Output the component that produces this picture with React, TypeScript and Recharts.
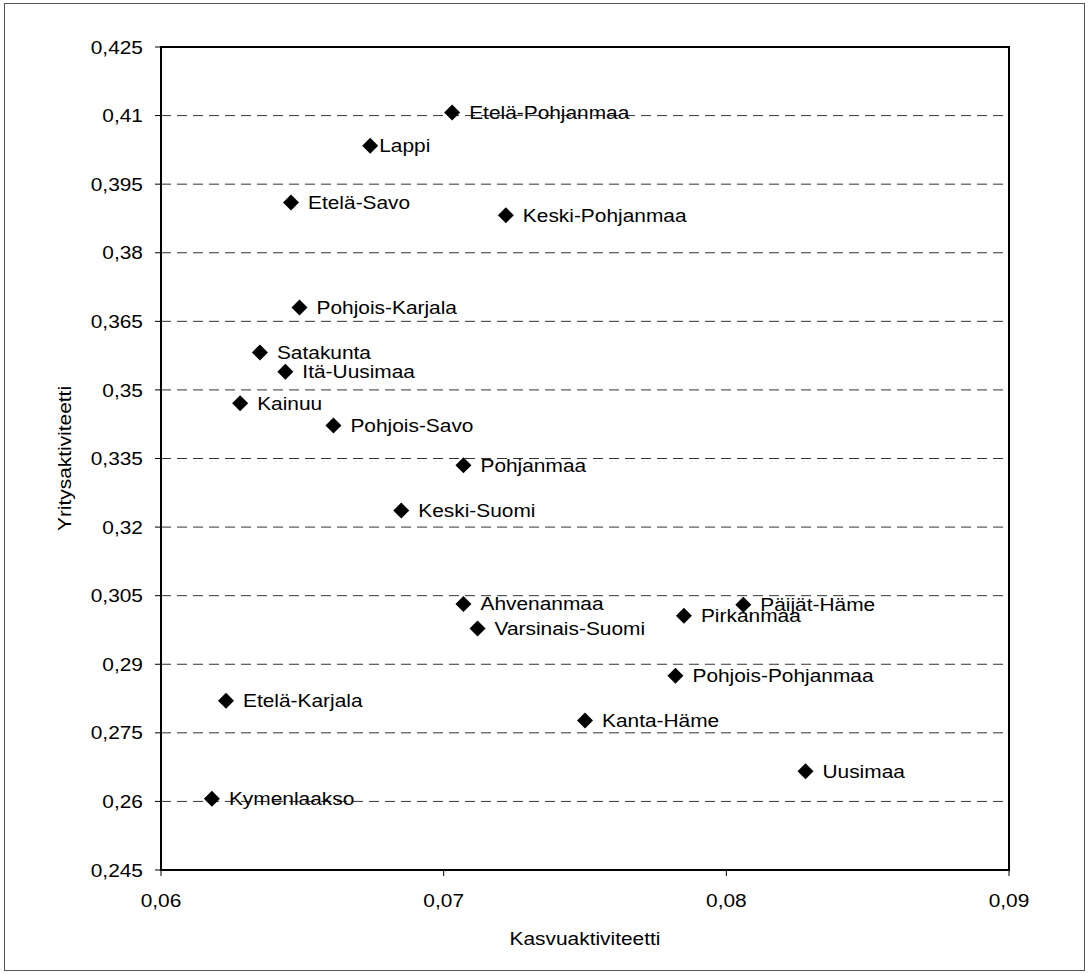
import React from "react";
import {
  ScatterChart,
  Scatter,
  XAxis,
  YAxis,
  CartesianGrid,
  ReferenceArea,
  Label,
} from "recharts";

const regions = [
  "Etelä-Pohjanmaa",
  "Lappi",
  "Etelä-Savo",
  "Keski-Pohjanmaa",
  "Pohjois-Karjala",
  "Satakunta",
  "Itä-Uusimaa",
  "Kainuu",
  "Pohjois-Savo",
  "Pohjanmaa",
  "Keski-Suomi",
  "Ahvenanmaa",
  "Varsinais-Suomi",
  "Päijät-Häme",
  "Pirkanmaa",
  "Pohjois-Pohjanmaa",
  "Etelä-Karjala",
  "Kanta-Häme",
  "Uusimaa",
  "Kymenlaakso",
];

const growthActivity = [
  0.0703, 0.0674, 0.0646, 0.0722, 0.0649, 0.0635, 0.0644, 0.0628, 0.0661,
  0.0707, 0.0685, 0.0707, 0.0712, 0.0806, 0.0785, 0.0782, 0.0623, 0.0750,
  0.0828, 0.0618,
];

const businessActivity = [
  0.4107, 0.4034, 0.391, 0.3882, 0.368, 0.3582, 0.354, 0.3471, 0.3422,
  0.3335, 0.3236, 0.3032, 0.2978, 0.303, 0.3006, 0.2875, 0.282, 0.2777,
  0.2666, 0.2606,
];

const xTickValues = [0.06, 0.07, 0.08, 0.09];
const xTickLabels = ["0,06", "0,07", "0,08", "0,09"];
const yTickValues = [
  0.245, 0.26, 0.275, 0.29, 0.305, 0.32, 0.335, 0.35, 0.365, 0.38, 0.395,
  0.41, 0.425,
];
const yTickLabels = [
  "0,245", "0,26", "0,275", "0,29", "0,305", "0,32", "0,335", "0,35",
  "0,365", "0,38", "0,395", "0,41", "0,425",
];

const xAxisTitle = "Kasvuaktiviteetti";
const yAxisTitle = "Yritysaktiviteetti";

// label placement style (gap between marker centre and label start)
const defaultLabelGap = 17;
const labelGapOverrides: Record<string, number> = { Lappi: 9 };

const data = regions.map((name, i) => ({
  name,
  x: growthActivity[i],
  y: businessActivity[i],
}));

const FONT = "'Liberation Sans', Arial, Helvetica, sans-serif";
const FS = 18.5;
const SX = 1.13;

const WText = ({
  x,
  y,
  anchor = "start",
  rotate = false,
  children,
}: {
  x: number;
  y: number;
  anchor?: "start" | "middle" | "end";
  rotate?: boolean;
  children: React.ReactNode;
}) => (
  <text
    transform={`translate(${x},${y})${rotate ? " rotate(-90)" : ""} scale(${SX},1)`}
    textAnchor={anchor}
    fontSize={FS}
    fontFamily={FONT}
    fill="#000"
  >
    {children}
  </text>
);

const labelFor = (vals: number[], labels: string[], v: number) => {
  const i = vals.findIndex((t) => Math.abs(t - v) < 1e-9);
  return i >= 0 ? labels[i] : String(v).replace(".", ",");
};

const XTick = (props: any) => {
  const { x, y, payload } = props;
  return (
    <WText x={x} y={y + 13.3} anchor="middle">
      {labelFor(xTickValues, xTickLabels, payload.value)}
    </WText>
  );
};

const YTick = (props: any) => {
  const { x, y, payload } = props;
  return (
    <WText x={x} y={y + 6.6} anchor="end">
      {labelFor(yTickValues, yTickLabels, payload.value)}
    </WText>
  );
};

const Diamond = (props: any) => {
  const { cx, cy, payload } = props;
  if (cx == null || cy == null) return null;
  const r = 8;
  const gap = labelGapOverrides[payload.name] ?? defaultLabelGap;
  return (
    <g>
      <polygon
        points={`${cx},${cy - r} ${cx + r},${cy} ${cx},${cy + r} ${cx - r},${cy}`}
        fill="#000"
      />
      <WText x={cx + gap} y={cy + 6.6}>
        {payload.name}
      </WText>
    </g>
  );
};

export default function App() {
  return (
    <div
      style={{
        position: "absolute",
        left: 0,
        top: 0,
        width: 1088,
        height: 974,
        background: "#fff",
      }}
    >
      <div
        style={{
          position: "absolute",
          left: 4,
          top: 3,
          width: 1079,
          height: 966,
          border: "1.5px solid #555",
        }}
      />
      <div style={{ position: "absolute", left: 0, top: 0 }}>
        <ScatterChart
          width={1088}
          height={974}
          margin={{ top: 47, right: 79, bottom: 44, left: 61 }}
        >
          <CartesianGrid
            vertical={false}
            stroke="#333"
            strokeDasharray="10 6"
            strokeWidth={1}
          />
          <XAxis
            type="number"
            dataKey="x"
            domain={[0.06, 0.09]}
            ticks={xTickValues}
            interval={0}
            height={60}
            tickSize={6}
            tickMargin={18}
            axisLine={{ stroke: "#000", strokeWidth: 2 }}
            tickLine={{ stroke: "#000", strokeWidth: 1 }}
            tick={<XTick />}
            allowDataOverflow
          >
            <Label
              content={(p: any) => {
                const vb = p.viewBox;
                return (
                  <WText x={vb.x + vb.width / 2} y={vb.y + 75} anchor="middle">
                    {xAxisTitle}
                  </WText>
                );
              }}
            />
          </XAxis>
          <YAxis
            type="number"
            dataKey="y"
            domain={[0.245, 0.425]}
            ticks={yTickValues}
            interval={0}
            width={100}
            tickSize={6}
            tickMargin={12}
            axisLine={{ stroke: "#000", strokeWidth: 2 }}
            tickLine={{ stroke: "#000", strokeWidth: 1 }}
            tick={<YTick />}
            allowDataOverflow
          >
            <Label
              content={(p: any) => {
                const vb = p.viewBox;
                return (
                  <WText
                    x={vb.x + 10}
                    y={vb.y + vb.height / 2}
                    anchor="middle"
                    rotate
                  >
                    {yAxisTitle}
                  </WText>
                );
              }}
            />
          </YAxis>
          <ReferenceArea
            x1={0.06}
            x2={0.09}
            y1={0.245}
            y2={0.425}
            fill="none"
            fillOpacity={0}
            stroke="#000"
            strokeWidth={2}
            ifOverflow="visible"
          />
          <Scatter
            data={data}
            shape={<Diamond />}
            isAnimationActive={false}
          />
        </ScatterChart>
      </div>
    </div>
  );
}
